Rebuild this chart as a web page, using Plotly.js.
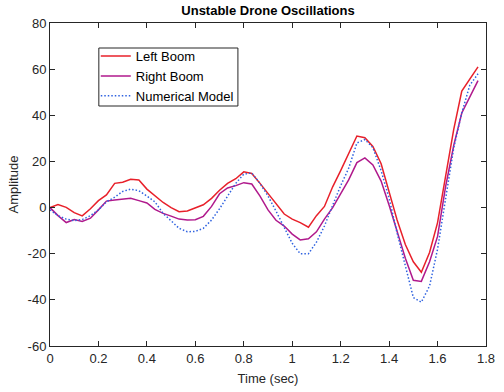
<!DOCTYPE html>
<html>
<head>
<meta charset="utf-8">
<script src="https://cdn.plot.ly/plotly-3.0.1.min.js"></script>
<style>html,body{margin:0;padding:0;background:#fff;}#chart{width:504px;height:392px;}</style>
</head>
<body>
<div id="chart"></div>
<script>
// Time samples (sec)
const timeSec = [0.000,0.033,0.067,0.100,0.133,0.167,0.200,0.233,0.267,0.300,
  0.333,0.367,0.400,0.433,0.467,0.500,0.533,0.567,0.600,0.633,
  0.667,0.700,0.733,0.767,0.800,0.833,0.867,0.900,0.933,0.967,
  1.000,1.033,1.067,1.100,1.133,1.167,1.200,1.233,1.267,1.300,
  1.333,1.367,1.400,1.433,1.467,1.500,1.533,1.567,1.600,1.633,
  1.667,1.700,1.733,1.767];

const leftBoom = [0,1.3,0.1,-2.2,-3.6,-0.5,3,5.5,10.5,11,
  12.3,12,8,5.2,2.2,0,-1.8,-1.5,-0.3,1.2,
  4,7.5,10.5,12.5,15.5,14.8,10.5,6,2,-2.8,
  -5,-6.5,-8.5,-3.5,0.5,9,16,23.5,31,30.3,
  26.5,19,7,-5.4,-16,-23.5,-28,-19.5,-6.5,13,
  34,50.5,55.5,61];

const rightBoom = [0,-3.5,-6.5,-5.2,-6,-4.6,-1,2.8,3.3,3.7,
  4,3,2,-0.8,-2.5,-3.7,-5,-5.4,-5.3,-3.8,
  0.5,6,8.5,9.5,10.8,10.2,5,-1,-5.5,-8,
  -11.5,-14,-13.5,-10.5,-5,0,6,12,19.5,21.5,
  18.5,11.5,1,-10.5,-22,-31.5,-32,-23.5,-12.5,9,
  27,41,48,55];

const numericalModel = [-1,-3.5,-5,-5.7,-5.2,-3.5,-1,2.5,4.5,7,
  8,7.3,5,2.5,-2.5,-5.8,-9,-10.5,-10.3,-9,
  -5.4,-0.5,5,10.5,14.5,15,10.5,5,-1.5,-8.5,
  -15.5,-20,-20,-15,-8,1,9.5,17,28,29.5,
  26,16,4,-11,-25,-39,-41,-34,-18,4,
  26,41,53,58];

const seriesNames = ['Left Boom','Right Boom','Numerical Model'];
const xTicks = [0,0.2,0.4,0.6,0.8,1,1.2,1.4,1.6,1.8];
const yTicks = [-60,-40,-20,0,20,40,60,80];

const axisColor = '#262626';
const font = 'Arial, "Liberation Sans", Helvetica, sans-serif';

const traces = [
  {x: timeSec, y: leftBoom, name: seriesNames[0], type: 'scatter', mode: 'lines',
   line: {color: '#e8202a', width: 1.5}},
  {x: timeSec, y: rightBoom, name: seriesNames[1], type: 'scatter', mode: 'lines',
   line: {color: '#b0198c', width: 1.5}},
  {x: timeSec, y: numericalModel, name: seriesNames[2], type: 'scatter', mode: 'lines',
   line: {color: '#2f62e0', width: 1.5, dash: '1.5px,2px'}}
];

const layout = {
  width: 504, height: 392,
  margin: {l: 50, r: 18, t: 23, b: 46},
  paper_bgcolor: '#fff', plot_bgcolor: '#fff',
  font: {family: font, size: 13, color: axisColor},
  title: {text: '<b>Unstable Drone Oscillations</b>', font: {family: font, size: 13, color: '#000'},
          x: 0.5, xanchor: 'center', xref: 'paper', y: 0.973, yanchor: 'middle'},
  xaxis: {range: [0, 1.8], tickvals: xTicks, ticktext: xTicks.map(String),
          ticks: 'inside', ticklen: 5, tickcolor: axisColor, showline: true, linecolor: axisColor,
          linewidth: 1, mirror: 'ticks', showgrid: false, zeroline: false,
          tickfont: {size: 13, color: axisColor},
          title: {text: 'Time (sec)', font: {size: 13, color: axisColor}, standoff: 9}},
  yaxis: {range: [-60, 80], tickvals: yTicks, ticktext: yTicks.map(String),
          ticks: 'inside', ticklen: 5, tickcolor: axisColor, showline: true, linecolor: axisColor,
          linewidth: 1, mirror: 'ticks', showgrid: false, zeroline: false,
          tickfont: {size: 13, color: axisColor},
          title: {text: 'Amplitude', font: {size: 13, color: axisColor}, standoff: 6}},
  legend: {x: 0.105, y: 0.944, xanchor: 'left', yanchor: 'top', bgcolor: 'rgba(0,0,0,0)',
           borderwidth: 0, font: {size: 13, color: '#000'}, tracegroupgap: 0},
  shapes: [{type: 'rect', xref: 'paper', yref: 'paper', x0: 0.112, x1: 0.431, y0: 0.743, y1: 0.9226,
            line: {color: axisColor, width: 1}, fillcolor: '#fff', layer: 'below'}],
  showlegend: true
};

Plotly.newPlot('chart', traces, layout, {displayModeBar: false, staticPlot: true});
</script>
</body>
</html>
